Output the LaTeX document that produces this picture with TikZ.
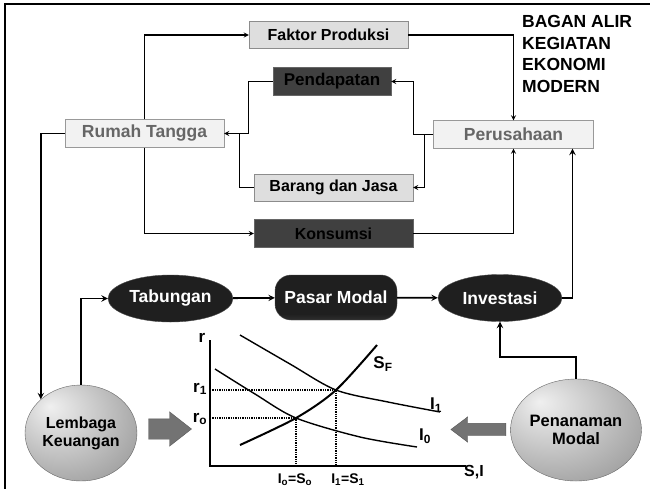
\documentclass[tikz,border=0pt]{standalone}
\usepackage{fontspec}
\setmainfont{Liberation Sans}
\usepackage{tikz}
\usetikzlibrary{calc, positioning, shapes.geometric, shapes.arrows}
\pgfdeclareradialshading{greyball}{\pgfpoint{-14bp}{14bp}}{color(0bp)=(black!6); color(28bp)=(black!30); color(68bp)=(black!64)}
\pgfdeclareverticalshading{pasarshade}{100bp}{color(0bp)=(black!50); color(14bp)=(black!72); color(32bp)=(black!88); color(100bp)=(black!88)}
\tikzstyle{lbox}=[draw=black!45, fill=black!13, inner sep=0pt, minimum width=159pt, minimum height=27pt, font=\fontsize{16}{19}\selectfont\bfseries]
\tikzstyle{dbox}=[draw=black!60, fill=black!75, inner sep=0pt, minimum height=28pt, font=\fontsize{16}{19}\selectfont\bfseries]
\tikzstyle{pbox}=[draw=black!40, fill=black!5, text=black!60, inner sep=0pt, minimum width=160pt, minimum height=28pt, font=\fontsize{17.5}{21}\selectfont\bfseries]
\tikzstyle{oval}=[ellipse, draw=black!70, fill=black!88, text=white, inner sep=0pt, minimum width=125pt, minimum height=47pt, font=\fontsize{17.5}{21}\selectfont\bfseries]
\tikzstyle{ball}=[ellipse, draw=black!60, shading=greyball, inner sep=0pt, align=center]
\tikzstyle{blk}=[single arrow, draw=black!65, fill=black!55, inner xsep=0pt]
\tikzstyle{conn}=[line width=1.2pt]
\tikzstyle{bconn}=[line width=1.8pt]
\tikzstyle{glbl}=[inner sep=0pt, font=\fontsize{17}{20}\selectfont\bfseries]
\tikzset{>=stealth}

\begin{document}
\begin{tikzpicture}[x=1pt, y=-1pt]
\useasboundingbox (0,0) rectangle (650,488);
\clip (0,0) rectangle (650,488);
\draw[line width=2pt] (5,4) rectangle (665,505);

% upper cycle
\node[lbox] (faktor) at (328.5,35) {Faktor Produksi};
\node[dbox, minimum width=118pt, font=\fontsize{17}{20}\selectfont\bfseries] (pendapatan) at (332,81.5) {Pendapatan};
\node[pbox, minimum width=159pt] (rumah) at (144.5,133.5) {Rumah Tangga};
\node[pbox] (perusahaan) at (513.5,134.5) {Perusahaan};
\node[lbox] (barang) at (333.5,187.5) {Barang dan Jasa};
\node[dbox, minimum width=159pt] (konsumsi) at (333.5,233.5) {Konsumsi};
\node[anchor=north west, inner sep=0pt, align=left, font=\fontsize{17.5}{21.7}\selectfont\bfseries] (judul) at (522,15) {BAGAN ALIR\\KEGIATAN\\EKONOMI\\MODERN};

\coordinate (pj) at ($(perusahaan.west)+(-20,0)$);
\coordinate (bj) at ($(perusahaan.west)+(-9,0)$);
\draw[conn, ->] (rumah.north) |- (faktor.west);
\draw[conn, ->] (faktor.east) -| (perusahaan.north);
\draw[conn, ->] (perusahaan.west) -- (pj) |- (pendapatan.east);
\draw[conn, ->] (bj) |- (barang.east);
\draw[conn, ->] (pendapatan.west) -| ($(rumah.east)+(24,0)$) -- (rumah.east);
\draw[conn] (barang.west) -| ($(rumah.east)+(15,0)$);
\draw[conn, ->] (rumah.south) |- (konsumsi.west);
\draw[conn, ->] (konsumsi.east) -| (perusahaan.south);

% lower flow
\node[oval] (tabungan) at (170.5,298.5) {Tabungan};
\node[rounded corners=16pt, draw=black!70, shading=pasarshade, text=white, inner sep=0pt, minimum width=122pt, minimum height=45pt, font=\fontsize{17.5}{21}\selectfont\bfseries] (pasar) at (336,297.5) {Pasar Modal};
\node[oval, minimum width=124pt] (investasi) at (500,298) {Investasi};
\node[ball, minimum width=112pt, minimum height=96pt, font=\fontsize{16}{18}\selectfont\bfseries] (lembaga) at (81,433) {Lembaga\\Keuangan};
\node[ball, minimum width=114pt, minimum height=102pt, font=\fontsize{16.5}{18.5}\selectfont\bfseries] (penanaman) at (576,430) {Penanaman\\Modal};

\draw[bconn, ->] (rumah.west) -| (lembaga.140);
\draw[bconn, ->] (lembaga.north) |- (tabungan.west);
\draw[bconn, ->] (tabungan) -- (pasar);
\draw[bconn, ->] (pasar) -- (investasi);
\draw[bconn, ->] (investasi.east) -| ($(perusahaan.south)+(59,0)$);
\draw[bconn, ->] (penanaman.north) -- ++(0,-22) -| (investasi.south);

\node[blk, inner ysep=10pt, minimum height=43pt, single arrow head extend=7pt, single arrow tip angle=76] (panahkiri) at (163.5,429) {};
\node[blk, inner ysep=6pt, minimum height=55pt, single arrow head extend=6.5pt, single arrow tip angle=74, shape border rotate=180] (panahkanan) at (482.5,429.5) {};

% grafik
\coordinate (ytop) at (210,340);
\coordinate (o) at (210,466);
\coordinate (xend) at (466,466);
\coordinate (e0) at (296,418);
\coordinate (e1) at (336,390);
\draw[line width=1.8pt] (ytop) -- (o) -- (xend);
\draw[line width=1.3pt, densely dotted] (e1 -| o) -- (e1) -- (e1 |- o);
\draw[line width=1.3pt, densely dotted] (e0 -| o) -- (e0) -- (e0 |- o);
\draw[line width=2pt] plot[smooth] coordinates {(240,445) (e0) (e1) (377,345)};
\draw[line width=1.4pt] plot[smooth] coordinates {(215,369) (255,394) (e0) (360,437) (417,447)};
\draw[line width=1.4pt] plot[smooth] coordinates {(240,335) (290,364) (e1) (388,402) (440,412)};

\node[glbl] (rlbl) at (202,338) {r};
\node[glbl] (r1lbl) at (200,389) {r\textsubscript{1}};
\node[glbl] (r0lbl) at (200,419) {r\textsubscript{o}};
\node[glbl] (sflbl) at (383,364) {S\textsubscript{F}};
\node[glbl] (i1lbl) at (436,405) {I\textsubscript{1}};
\node[glbl] (i0lbl) at (425,436) {I\textsubscript{0}};
\node[glbl, font=\fontsize{16}{19}\selectfont\bfseries] (silbl) at (474,472) {S,I};
\node[glbl, font=\fontsize{14}{17}\selectfont\bfseries] (eq0) at (295,480) {I\textsubscript{o}=S\textsubscript{o}};
\node[glbl, font=\fontsize{14}{17}\selectfont\bfseries] (eq1) at (348,480) {I\textsubscript{1}=S\textsubscript{1}};
\end{tikzpicture}
\end{document}
